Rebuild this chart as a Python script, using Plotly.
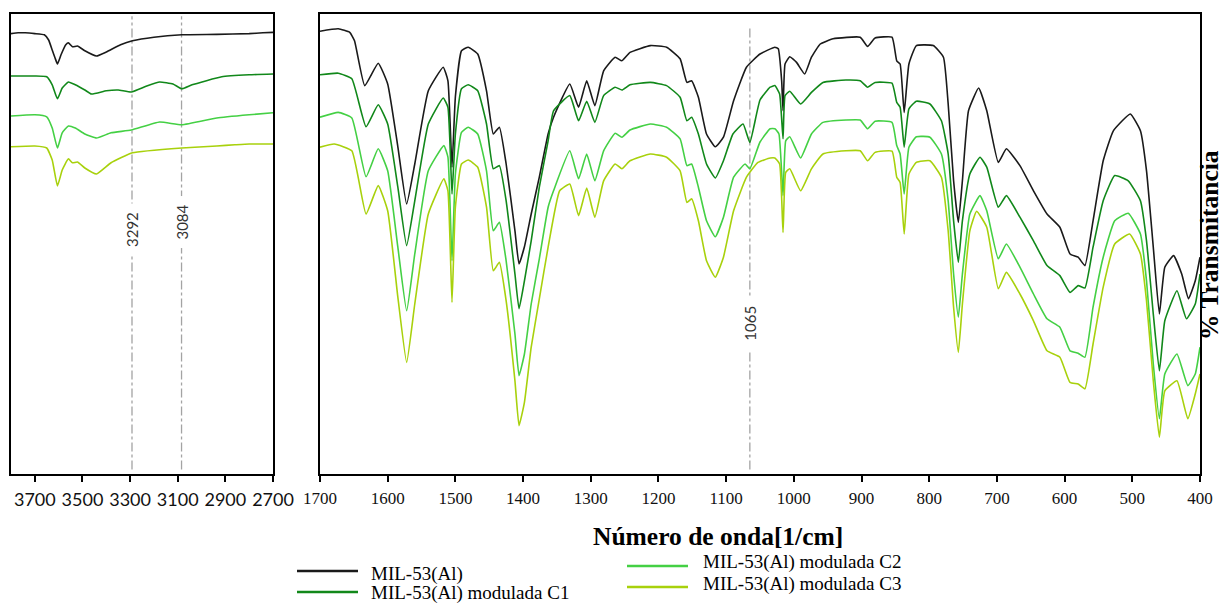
import plotly.graph_objects as go

# ---------------- data (wavenumber in 1/cm, transmittance in arbitrary offset units) -------------
SERIES_NAMES = ["MIL-53(Al)", "MIL-53(Al) modulada C1", "MIL-53(Al) modulada C2", "MIL-53(Al) modulada C3"]
SERIES_COLORS = ["#1a1a1a", "#11881a", "#44d044", "#a8d10c"]

# Left panel (3800-2700 cm-1)
L0_WN = [3800, 3770, 3740, 3700, 3660, 3642, 3627, 3615, 3605, 3590, 3570, 3559, 3542, 3521, 3490, 3441, 3400, 3340, 3290, 3200, 3083, 2936, 2800, 2742, 2700]
L0_T = [110.1, 110.3, 110.3, 110.1, 109.8, 108.5, 106.0, 104.0, 102.5, 104.8, 107.3, 107.8, 106.8, 107.0, 105.8, 104.5, 105.5, 107.3, 108.3, 109.2, 109.8, 109.9, 110.1, 110.3, 110.4]

L1_WN = [3800, 3700, 3650, 3627, 3605, 3585, 3559, 3530, 3490, 3462, 3400, 3350, 3295, 3230, 3176, 3120, 3083, 3040, 2915, 2800, 2700]
L1_T = [99.5, 99.5, 99.3, 97.3, 93.8, 96.5, 98.0, 97.3, 96.0, 95.0, 95.8, 96.0, 95.5, 97.0, 98.0, 97.5, 96.3, 97.3, 99.3, 99.8, 100.0]

L2_WN = [3800, 3700, 3650, 3627, 3605, 3585, 3559, 3530, 3490, 3441, 3380, 3295, 3176, 3083, 2936, 2800, 2700]
L2_T = [89.5, 89.8, 89.3, 86.5, 81.5, 85.3, 87.0, 86.5, 85.0, 84.0, 85.3, 86.0, 88.0, 87.3, 89.0, 89.8, 90.3]

L3_WN = [3800, 3700, 3650, 3627, 3605, 3585, 3559, 3542, 3521, 3490, 3441, 3380, 3290, 3083, 2936, 2860, 2800, 2700]
L3_T = [81.8, 82.0, 81.5, 78.5, 72.0, 76.0, 78.8, 77.8, 78.0, 76.5, 75.0, 77.8, 80.3, 81.5, 82.0, 82.3, 82.5, 82.5]

# Right panel (1700-400 cm-1)
R0_WN = [1700, 1673, 1656, 1649, 1634, 1614, 1600, 1585, 1572, 1560, 1540, 1518, 1511, 1505, 1500, 1491, 1481, 1467, 1454, 1444,
         1435, 1425, 1412, 1406, 1398, 1388, 1376, 1363, 1355, 1331, 1318, 1306, 1294, 1281, 1264, 1254, 1242, 1212, 1188, 1168,
         1158, 1151, 1141, 1129, 1116, 1104, 1089, 1070, 1050, 1028, 1023, 1018, 1016, 1013, 1006, 996, 984, 974, 961, 942,
         902, 891, 880, 855, 848, 843, 837, 830, 819, 794, 779, 772, 764, 757, 751, 742, 727, 715, 698, 686,
         666, 646, 626, 607, 592, 580, 570, 558, 543, 528, 503, 488, 479, 469, 460, 452, 439, 427, 417, 407, 400]
R0_T = [110.7, 111.3, 110.4, 108.3, 97.1, 102.7, 97.5, 81.8, 67.5, 77.5, 95.8, 101.7, 98.3, 76.7, 94.3, 105.8, 106.7, 105.0, 95.8, 85.0,
        86.7, 77.5, 60.8, 52.5, 56.8, 65.0, 74.2, 85.0, 89.2, 97.5, 91.7, 98.3, 92.1, 100.8, 104.2, 103.3, 105.4, 107.1, 106.7, 103.8,
        97.9, 98.3, 94.2, 85.0, 81.8, 84.2, 93.3, 101.7, 105.0, 106.7, 106.3, 98.3, 90.8, 102.5, 104.3, 102.9, 100.0, 104.2, 107.5, 108.8,
        109.2, 106.9, 109.0, 109.2, 103.3, 102.5, 90.4, 102.5, 107.1, 107.1, 104.2, 92.5, 73.3, 62.9, 73.3, 90.8, 96.5, 90.8, 77.9, 81.3,
        77.1, 70.8, 65.0, 61.7, 55.0, 54.2, 52.1, 63.3, 78.3, 85.8, 90.0, 85.8, 75.8, 56.7, 40.0, 51.7, 54.6, 50.0, 43.8, 48.3, 54.2]

R1_WN = [1700, 1673, 1653, 1632, 1614, 1600, 1585, 1572, 1560, 1540, 1518, 1511, 1505, 1500, 1491, 1481, 1467, 1454, 1444, 1435,
         1425, 1412, 1406, 1398, 1388, 1376, 1363, 1355, 1331, 1318, 1306, 1294, 1281, 1264, 1254, 1242, 1212, 1188, 1168, 1158,
         1151, 1141, 1129, 1116, 1104, 1090, 1075, 1065, 1050, 1035, 1028, 1021, 1016, 1013, 1006, 990, 974, 957, 923, 902,
         891, 880, 855, 848, 843, 837, 830, 819, 799, 782, 772, 764, 757, 751, 740, 725, 715, 698, 686, 666,
         646, 626, 607, 592, 580, 570, 558, 543, 526, 506, 488, 479, 469, 460, 452, 434, 420, 407, 400]
R1_T = [99.8, 100.2, 98.8, 86.8, 92.3, 87.5, 71.7, 57.1, 68.3, 87.5, 94.0, 91.7, 70.0, 85.0, 96.3, 97.3, 95.8, 87.5, 76.3, 77.1,
        68.3, 50.0, 41.3, 48.3, 58.3, 71.7, 83.3, 90.8, 94.6, 88.3, 93.2, 87.9, 94.6, 96.7, 96.0, 97.3, 97.9, 97.1, 94.2, 88.3,
        89.2, 85.0, 77.5, 74.0, 78.3, 85.0, 87.5, 82.9, 93.5, 96.7, 97.1, 95.0, 83.8, 94.6, 95.7, 92.5, 95.4, 97.9, 98.5, 98.3,
        96.7, 97.9, 97.7, 92.9, 91.7, 81.7, 91.3, 93.2, 92.5, 88.3, 80.0, 63.3, 52.9, 63.3, 75.0, 79.2, 76.7, 66.7, 69.6, 64.2,
        58.3, 52.1, 49.6, 45.4, 47.1, 46.5, 56.7, 68.3, 74.6, 73.3, 68.3, 58.3, 40.0, 25.8, 38.3, 45.8, 38.8, 42.5, 50.0]

R2_WN = [1700, 1673, 1653, 1632, 1614, 1600, 1585, 1572, 1560, 1540, 1517, 1511, 1505, 1500, 1491, 1481, 1467, 1454, 1444, 1435,
         1425, 1412, 1406, 1398, 1388, 1376, 1363, 1355, 1331, 1318, 1306, 1294, 1281, 1264, 1254, 1242, 1212, 1188, 1168, 1158,
         1151, 1141, 1129, 1116, 1104, 1089, 1072, 1065, 1050, 1035, 1028, 1022, 1016, 1012, 1006, 990, 974, 957, 923, 902,
         891, 880, 855, 848, 843, 837, 830, 819, 799, 782, 772, 764, 757, 751, 740, 725, 715, 698, 686, 666,
         646, 626, 607, 592, 580, 570, 558, 543, 526, 506, 488, 479, 469, 460, 452, 434, 418, 407, 400]
R2_T = [89.2, 90.4, 89.0, 74.3, 81.3, 75.8, 56.7, 40.8, 55.0, 75.8, 82.1, 79.2, 53.3, 75.0, 85.4, 86.7, 85.0, 75.8, 60.8, 62.9,
        53.3, 35.0, 24.6, 30.0, 42.5, 53.8, 66.7, 70.8, 80.8, 73.8, 80.0, 73.3, 80.8, 85.2, 84.2, 86.0, 87.5, 86.7, 83.8, 77.1,
        77.5, 71.7, 63.3, 59.3, 64.2, 74.2, 77.5, 76.3, 83.0, 86.3, 86.3, 85.0, 69.6, 83.3, 84.3, 79.0, 85.0, 87.9, 88.5, 88.5,
        86.3, 88.2, 87.9, 82.1, 80.0, 70.0, 81.7, 84.3, 84.2, 80.0, 68.3, 50.0, 39.2, 50.0, 65.0, 69.6, 65.8, 53.8, 57.5, 51.7,
        45.0, 38.8, 36.7, 30.8, 30.2, 29.2, 41.7, 54.2, 63.3, 65.2, 60.0, 48.3, 27.5, 13.8, 25.0, 30.0, 22.1, 25.0, 31.7]

R3_WN = [1700, 1679, 1653, 1632, 1614, 1600, 1585, 1572, 1560, 1540, 1517, 1511, 1505, 1500, 1491, 1481, 1467, 1454, 1444, 1435,
         1425, 1412, 1406, 1398, 1388, 1376, 1363, 1346, 1331, 1318, 1306, 1294, 1281, 1264, 1254, 1242, 1212, 1188, 1168, 1158,
         1151, 1141, 1129, 1116, 1104, 1089, 1070, 1053, 1035, 1028, 1021, 1016, 1012, 1006, 990, 974, 957, 923, 902, 891,
         880, 855, 848, 843, 837, 830, 819, 799, 782, 772, 764, 757, 751, 740, 730, 715, 698, 686, 666, 646,
         626, 607, 592, 580, 570, 558, 543, 526, 504, 488, 479, 469, 460, 452, 434, 418, 407, 400]
R3_T = [81.7, 82.5, 80.8, 65.0, 72.1, 65.8, 44.2, 27.9, 42.5, 65.0, 73.8, 70.8, 42.9, 66.7, 77.5, 78.5, 76.7, 66.7, 50.8, 52.9,
        43.3, 23.3, 12.1, 17.9, 31.7, 43.8, 56.7, 70.8, 72.5, 64.6, 71.5, 64.2, 73.3, 77.5, 76.3, 78.3, 80.0, 79.2, 75.8, 67.9,
        68.8, 63.3, 53.3, 49.2, 54.2, 65.8, 74.2, 77.9, 79.0, 79.0, 77.5, 60.4, 75.4, 76.3, 70.8, 76.3, 80.0, 80.8, 80.8, 78.3,
        80.4, 80.7, 74.2, 72.9, 60.0, 75.0, 77.9, 78.3, 74.2, 60.8, 41.7, 30.4, 42.5, 60.8, 65.7, 61.7, 46.3, 50.4, 45.0, 38.3,
        30.8, 29.2, 22.9, 22.5, 21.3, 32.5, 46.7, 57.5, 60.0, 55.0, 43.3, 23.3, 9.2, 20.8, 23.3, 13.8, 20.0, 25.0]

LEFT_TICKS = [3700, 3500, 3300, 3100, 2900, 2700]
RIGHT_TICKS = [1700, 1600, 1500, 1400, 1300, 1200, 1100, 1000, 900, 800, 700, 600, 500, 400]
LEFT_MARKERS = [3292, 3084]
RIGHT_MARKERS = [1065]

LEFT = [(L0_WN, L0_T), (L1_WN, L1_T), (L2_WN, L2_T), (L3_WN, L3_T)]
RIGHT = [(R0_WN, R0_T), (R1_WN, R1_T), (R2_WN, R2_T), (R3_WN, R3_T)]

# ---------------- figure -------------
W, H = 1231, 603
OFF = 8  # page body margin: figure drawn 8px from the window's corner

fig = go.Figure()
for i in range(4):
    fig.add_trace(go.Scatter(x=LEFT[i][0], y=LEFT[i][1], mode="lines", xaxis="x", yaxis="y",
                             line=dict(color=SERIES_COLORS[i], width=1.6, shape="spline", smoothing=0.4),
                             name=SERIES_NAMES[i], showlegend=False))
    fig.add_trace(go.Scatter(x=RIGHT[i][0], y=RIGHT[i][1], mode="lines", xaxis="x2", yaxis="y2",
                             line=dict(color=SERIES_COLORS[i], width=1.6, shape="spline", smoothing=0.4),
                             name=SERIES_NAMES[i], showlegend=False))


def px(x):
    return (x - OFF) / W


def py(y):
    return 1 - (y - OFF) / H


ydom = [py(474), py(14)]
axis_common = dict(showline=True, mirror=True, linewidth=2, linecolor="black", showgrid=False, zeroline=False,
                   automargin=False)

shapes = []
annotations = []
for wn in LEFT_MARKERS:
    shapes.append(dict(type="line", xref="x", yref="y domain", x0=wn, x1=wn, y0=0.01, y1=0.995, layer="below",
                       line=dict(color="#a3a3a3", width=1.3, dash="dashdot")))
for wn in RIGHT_MARKERS:
    shapes.append(dict(type="line", xref="x2", yref="y2 domain", x0=wn, x1=wn, y0=0.01, y1=0.975, layer="below",
                       line=dict(color="#a3a3a3", width=1.3, dash="dashdot")))

marker_font = dict(family="Lato, Open Sans, sans-serif", size=15, color="#333333")
annotations.append(dict(x=3292, y=61.0, xref="x", yref="y", text="3292", textangle=-90, showarrow=False,
                        font=marker_font, bgcolor="white", borderpad=8))
annotations.append(dict(x=3084, y=63.0, xref="x", yref="y", text="3084", textangle=-90, showarrow=False,
                        font=marker_font, bgcolor="white", borderpad=8))
annotations.append(dict(x=1065, y=37.8, xref="x2", yref="y2", text="1065", textangle=-90, showarrow=False,
                        font=marker_font, bgcolor="white", borderpad=9))

serif = "Liberation Serif, Times New Roman, serif"
annotations.append(dict(x=px(718), y=py(536), xref="paper", yref="paper", text="<b>Número de onda[1/cm]</b>",
                        xanchor="center", yanchor="middle",
                        showarrow=False, font=dict(family=serif, size=25.5, color="black")))
annotations.append(dict(x=px(1209), y=py(245), xref="paper", yref="paper", text="<b>% Transmitancia</b>",
                        xanchor="center", yanchor="middle",
                        textangle=-90, showarrow=False, font=dict(family=serif, size=25.5, color="black")))

# legend (two offset columns, as in the original)
legend_rows = [  # (line x0, line x1, line y, text x, text y)
    (297, 358, 571, 369, 574),
    (297, 358, 592, 369, 593),
    (627, 688, 566, 701, 562),
    (627, 688, 587, 701, 584),
]
for i, (lx0, lx1, ly, tx, ty) in enumerate(legend_rows):
    shapes.append(dict(type="line", xref="paper", yref="paper", x0=px(lx0), x1=px(lx1), y0=py(ly), y1=py(ly),
                       line=dict(color=SERIES_COLORS[i], width=2.5)))
    annotations.append(dict(x=px(tx), y=py(ty), xref="paper", yref="paper", text=SERIES_NAMES[i], showarrow=False,
                            xanchor="left", yanchor="middle", font=dict(family=serif, size=19, color="black")))

fig.update_layout(
    width=W, height=H, autosize=False,
    margin=dict(l=0, r=0, t=0, b=0, pad=0, autoexpand=False),
    paper_bgcolor="white", plot_bgcolor="white", showlegend=False,
    xaxis=dict(domain=[px(11), px(273)], range=[3800, 2700], tickvals=LEFT_TICKS, ticks="outside", ticklen=6,
               tickwidth=2, tickcolor="black", anchor="y", ticklabelstandoff=2,
               tickfont=dict(family="Lato, Open Sans, sans-serif", size=18, color="#111111"), **axis_common),
    yaxis=dict(domain=ydom, range=[0, 115], showticklabels=False, ticks="", anchor="x", **axis_common),
    xaxis2=dict(domain=[px(320), px(1200)], range=[1700, 400], tickvals=RIGHT_TICKS, ticks="outside", ticklen=6,
                tickwidth=2, tickcolor="black", anchor="y2", ticklabelstandoff=2,
                tickfont=dict(family=serif, size=17, color="#111111"), **axis_common),
    yaxis2=dict(domain=ydom, range=[0, 115], showticklabels=False, ticks="", anchor="x2", **axis_common),
    shapes=shapes, annotations=annotations,
)

fig.write_html("out.html")
